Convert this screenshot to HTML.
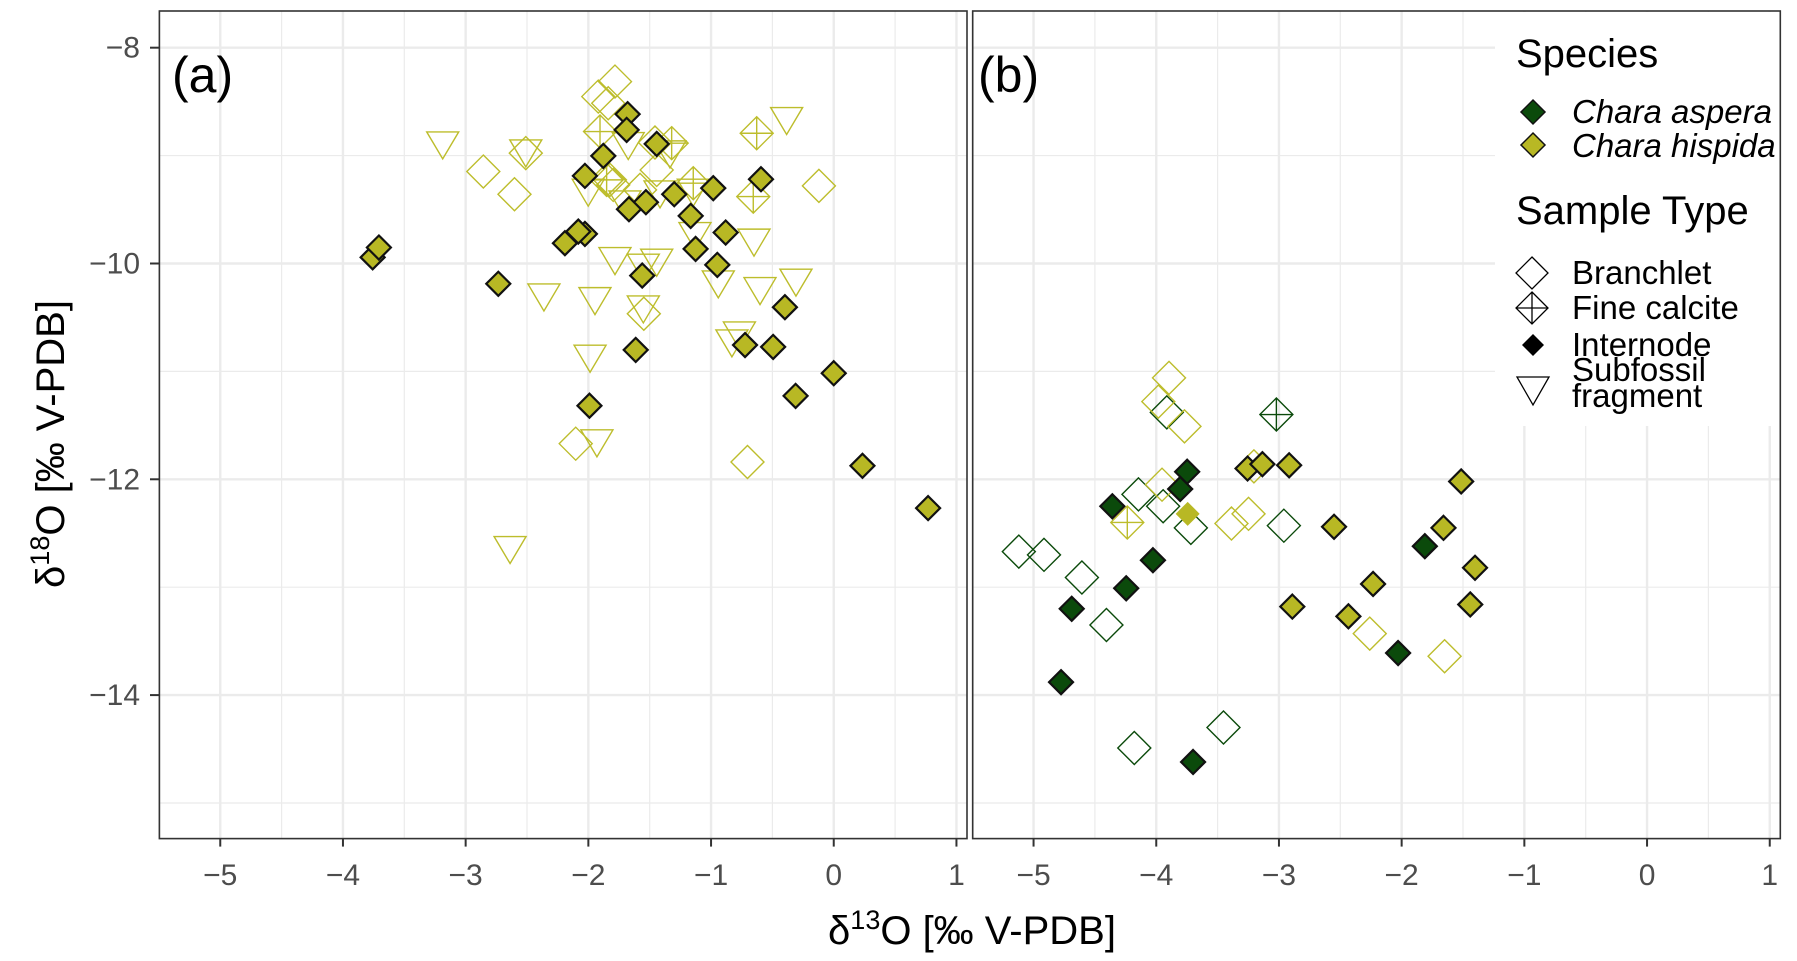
<!DOCTYPE html>
<html><head><meta charset="utf-8"><style>
html,body{margin:0;padding:0;background:#fff;}
svg{display:block;font-family:"Liberation Sans",sans-serif;}
</style></head><body>
<svg id="chart" width="1797" height="961" viewBox="0 0 1797 961" xmlns="http://www.w3.org/2000/svg">
<g id="grid"></g><g id="marks"></g><g id="frame"></g><g id="legend"></g>
</svg>
<script>
// ---- data (x = δ13C, y = δ18O) ----
const xTicks = [-5,-4,-3,-2,-1,0,1];
const yTicks = [-8,-10,-12,-14];
// Panel (a): Chara hispida
const aIntX = [-1.680,-1.688,-1.443,-1.878,-2.028,-1.531,-1.669,-1.300,-0.982,-0.593,-1.166,-0.881,-1.126,-0.949,-1.561,-2.028,-2.082,-2.191,-0.398,-3.758,-3.707,-2.734,-1.991,-1.614,-0.723,-0.494,-0.311,0.000,0.234,0.769];
const aIntY = [-8.616,-8.762,-8.892,-9.003,-9.188,-9.432,-9.497,-9.358,-9.302,-9.219,-9.559,-9.713,-9.865,-10.013,-10.112,-9.726,-9.704,-9.812,-10.405,-9.943,-9.852,-10.188,-11.318,-10.801,-10.756,-10.773,-11.227,-11.017,-11.875,-12.267];
const aBrX = [-1.783,-1.919,-1.838,-1.457,-1.443,-1.824,-1.797,-1.579,-0.121,-2.856,-2.602,-2.510,-0.703,-2.103,-1.548];
const aBrY = [-8.314,-8.453,-8.515,-8.879,-9.133,-9.225,-9.272,-9.318,-9.281,-9.148,-9.358,-8.977,-11.840,-11.670,-10.466];
const aFcX = [-0.628,-0.656,-1.905,-1.321,-1.145,-1.851];
const aFcY = [-8.793,-9.380,-8.777,-8.885,-9.256,-9.225];
const aSfX = [-0.384,-1.675,-1.335,-2.001,-1.702,-1.416,-1.145,-1.131,-0.650,-1.783,-1.443,-1.552,-0.941,-0.601,-0.308,-1.946,-1.552,-3.187,-2.510,-2.362,-1.986,-1.930,-2.638,-0.769,-0.830];
const aSfY = [-8.638,-8.870,-8.947,-9.302,-9.411,-9.318,-9.302,-9.704,-9.765,-9.936,-9.951,-9.997,-10.152,-10.214,-10.136,-10.307,-10.384,-8.864,-8.938,-10.273,-10.841,-11.625,-12.614,-10.625,-10.699];
// Panel (b)
const bAspIntX = [-3.748,-3.805,-4.358,-4.027,-4.245,-4.689,-1.811,-2.029,-4.776,-3.700];
const bAspIntY = [-11.93,-12.09,-12.25,-12.75,-13.01,-13.20,-12.62,-13.61,-13.88,-14.62];
const bHisIntX = [-3.256,-3.135,-2.917,-1.515,-2.551,-1.659,-1.402,-2.233,-2.891,-2.434,-1.441];
const bHisIntY = [-11.90,-11.86,-11.87,-12.02,-12.44,-12.45,-12.82,-12.97,-13.18,-13.27,-13.16];
const bHisPlainX = [-3.744];
const bHisPlainY = [-12.32];
const bAspBrX = [-5.120,-4.915,-4.606,-4.406,-4.145,-3.944,-3.914,-3.718,-2.960,-4.179,-3.452];
const bAspBrY = [-12.67,-12.70,-12.91,-13.35,-12.14,-12.25,-11.38,-12.45,-12.43,-14.49,-14.30];
const bHisBrX = [-3.896,-3.983,-3.770,-3.953,-3.387,-3.248,-2.260,-1.650,-3.204];
const bHisBrY = [-11.06,-11.28,-11.51,-12.05,-12.41,-12.32,-13.43,-13.64,-11.88];
const bAspFcX = [-3.021];
const bAspFcY = [-11.40];
const bHisFcX = [-4.236];
const bHisFcY = [-12.40];

const NS="http://www.w3.org/2000/svg";
const XMIN=-5.496, XMAX=1.086, YTOP=-7.66, YBOT=-15.33;
const PT=11, PB=838.6;
const panels={a:{l:159.4,r:967},b:{l:972.7,r:1780.3}};
const OLIVE="#b8b824", OLIVE_LINE="#bdbd2c", GREEN="#0b4a0b";
function sx(p,v){const P=panels[p];return P.l+(v-XMIN)/(XMAX-XMIN)*(P.r-P.l);}
function sy(v){return PT+(YTOP-v)/(YTOP-YBOT)*(PB-PT);}
function mk(tag,attrs,parent){const e=document.createElementNS(NS,tag);for(const k in attrs)e.setAttribute(k,attrs[k]);parent.appendChild(e);return e;}
const grid=document.getElementById('grid'),marks=document.getElementById('marks'),frame=document.getElementById('frame'),legend=document.getElementById('legend');

for(const p of ['a','b']){
  const P=panels[p];
  const bg=mk('rect',{x:P.l,y:PT,width:P.r-P.l,height:PB-PT,fill:'#fff'},grid);
  
  
  for(let v=-5.5;v<=1.05;v+=1){
    const x=sx(p,v);
    const l=mk('line',{x1:x,x2:x,y1:PT,y2:PB,stroke:'#ebebeb','stroke-width':1.2},grid);
    
    
  }
  for(const v of [-9,-11,-13,-15]){
    const y=sy(v);
    const l=mk('line',{x1:P.l,x2:P.r,y1:y,y2:y,stroke:'#ebebeb','stroke-width':1.2},grid);
    
    
  }
  for(const v of xTicks){
    const x=sx(p,v);
    const l=mk('line',{x1:x,x2:x,y1:PT,y2:PB,stroke:'#ebebeb','stroke-width':2.4},grid);
    
    
    const t=mk('line',{x1:x,x2:x,y1:PB,y2:PB+8,stroke:'#333','stroke-width':2},frame);
    
    
    const tx=mk('text',{x:x,y:885,'text-anchor':'middle','font-size':30,fill:'#4d4d4d'},frame);
    tx.textContent=(v<0?'\u2212'+(-v):String(v));
    
    
  }
  for(const v of yTicks){
    const y=sy(v);
    const l=mk('line',{x1:P.l,x2:P.r,y1:y,y2:y,stroke:'#ebebeb','stroke-width':2.4},grid);
    
    
  }
}
// legend background hides gridlines in panel b
const lgbg=mk('rect',{x:1495,y:PT+1,width:1780-1495,height:425-PT,fill:'#fff'},grid);



for(const v of yTicks){
  const y=sy(v);
  const t=mk('line',{x1:150,x2:159,y1:y,y2:y,stroke:'#333','stroke-width':2},frame);
  
  
  const tx=mk('text',{x:140,y:y+10,'text-anchor':'end','font-size':30,fill:'#4d4d4d'},frame);
  tx.textContent='\u2212'+(-v);
  
  
}

function diamond(g,cx,cy,r,fill,stroke,sw){return mk('polygon',{points:`${cx},${cy-r} ${cx+r},${cy} ${cx},${cy+r} ${cx-r},${cy}`,fill:fill,stroke:stroke,'stroke-width':sw},g);}
function drawBr(p,xs,ys,col,name){for(let i=0;i<xs.length;i++){const e=diamond(marks,sx(p,xs[i]),sy(ys[i]),16.5,'none',col,1.4);}}
function drawFc(p,xs,ys,col,name){for(let i=0;i<xs.length;i++){const cx=sx(p,xs[i]),cy=sy(ys[i]),r=16.5;const g=mk('g',{},marks);diamond(g,cx,cy,r,'none',col,1.4);mk('path',{d:`M${cx-r},${cy}H${cx+r}M${cx},${cy-r}V${cy+r}`,stroke:col,'stroke-width':1.4},g);}}
function drawSf(p,xs,ys,col,name){for(let i=0;i<xs.length;i++){const cx=sx(p,xs[i]),cy=sy(ys[i]);const e=mk('polygon',{points:`${cx-16},${cy-9} ${cx+16},${cy-9} ${cx},${cy+18}`,fill:'none',stroke:col,'stroke-width':1.4},marks);}}
function drawInt(p,xs,ys,fill,stroke,name){for(let i=0;i<xs.length;i++){const e=diamond(marks,sx(p,xs[i]),sy(ys[i]),12,fill,stroke,stroke==='none'?0:2.2);}}

drawSf('a',aSfX,aSfY,OLIVE_LINE,'hispida-subfossil-point');
drawBr('a',aBrX,aBrY,OLIVE_LINE,'hispida-branchlet-point');
drawFc('a',aFcX,aFcY,OLIVE_LINE,'hispida-fine-calcite-point');
drawInt('a',aIntX,aIntY,OLIVE,'#111','hispida-internode-point');

drawBr('b',bAspBrX,bAspBrY,GREEN,'aspera-branchlet-point');
drawBr('b',bHisBrX,bHisBrY,OLIVE_LINE,'hispida-branchlet-point');
drawFc('b',bAspFcX,bAspFcY,GREEN,'aspera-fine-calcite-point');
drawFc('b',bHisFcX,bHisFcY,OLIVE_LINE,'hispida-fine-calcite-point');
drawInt('b',bHisPlainX,bHisPlainY,OLIVE,'none','hispida-internode-point');
drawInt('b',bAspIntX,bAspIntY,GREEN,'#111','aspera-internode-point');
drawInt('b',bHisIntX,bHisIntY,OLIVE,'#111','hispida-internode-point');

for(const p of ['a','b']){
  const P=panels[p];
  const r=mk('rect',{x:P.l,y:PT,width:P.r-P.l,height:PB-PT,fill:'none',stroke:'#333','stroke-width':1.6},frame);
  
  
}
</script>
<svg style="position:absolute;left:0;top:0" width="1797" height="961" xmlns="http://www.w3.org/2000/svg">
<g font-family="Liberation Sans, sans-serif">
<text x="172" y="92" font-size="50" fill="#000">(a)</text>
<text x="978" y="92" font-size="50" fill="#000">(b)</text>
<text transform="translate(64,444) rotate(-90)" text-anchor="middle" font-size="40" fill="#000">δ<tspan dy="-15" font-size="27">18</tspan><tspan dy="15">O [‰ V-PDB]</tspan></text>
<text x="972" y="944" text-anchor="middle" font-size="40" fill="#000">δ<tspan dy="-15" font-size="27">13</tspan><tspan dy="15">O [‰ V-PDB]</tspan></text>
<g>
<text x="1516" y="67" font-size="40" fill="#000">Species</text>
<polygon points="1533,100 1545,112 1533,124 1521,112" fill="#0b4a0b" stroke="#111" stroke-width="1.5"/>
<text x="1572" y="123" font-size="33" font-style="italic" fill="#000">Chara aspera</text>
<polygon points="1533,133 1545,145 1533,157 1521,145" fill="#b8b824" stroke="#111" stroke-width="1.5"/>
<text x="1572" y="157" font-size="33" font-style="italic" fill="#000">Chara hispida</text>
<text x="1516" y="224" font-size="40" fill="#000">Sample Type</text>
<polygon points="1532,257 1548,273 1532,289 1516,273" fill="none" stroke="#000" stroke-width="1.3"/>
<text x="1572" y="284" font-size="33" fill="#000">Branchlet</text>
<g><polygon points="1532,292 1548,308 1532,324 1516,308" fill="none" stroke="#000" stroke-width="1.3"/><path d="M1516,308H1548M1532,292V324" stroke="#000" stroke-width="1.3"/></g>
<text x="1572" y="319" font-size="33" fill="#000">Fine calcite</text>
<polygon points="1533,334 1544,345 1533,356 1522,345" fill="#000"/>
<text x="1572" y="356" font-size="33" fill="#000">Internode</text>
<polygon points="1517,377 1549,377 1533,405" fill="none" stroke="#000" stroke-width="1.3"/>
<text x="1572" y="381" font-size="33" fill="#000">Subfossil</text>
<text x="1572" y="407" font-size="33" fill="#000">fragment</text>
</g>
</g>
</svg>
</body></html>
